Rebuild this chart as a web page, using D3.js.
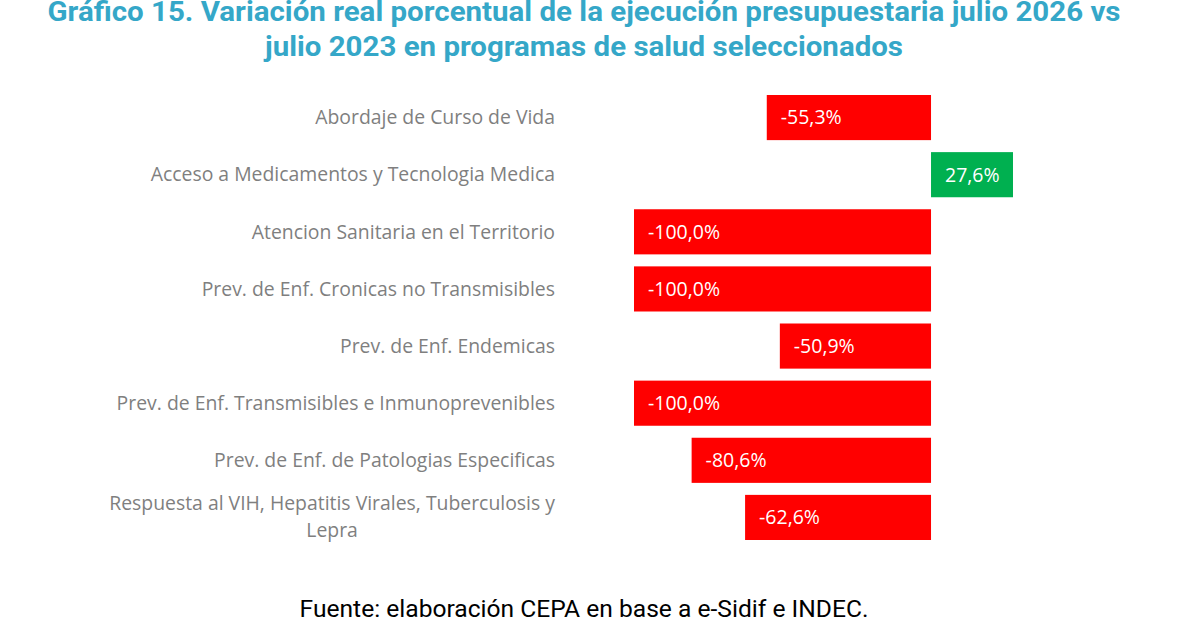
<!DOCTYPE html>
<html>
<head>
<meta charset="utf-8">
<script src="https://cdn.jsdelivr.net/npm/d3@7"></script>
<style>
  body { margin: 0; background: #fff; }
</style>
</head>
<body>
<div id="svganchor"></div>
<script>
let width = 1180;
let height = 642;

let titleLines = [
  "Gráfico 15. Variación real porcentual de la ejecución presupuestaria julio 2026 vs",
  "julio 2023 en programas de salud seleccionados"
];
let categories = [
  "Abordaje de Curso de Vida",
  "Acceso a Medicamentos y Tecnologia Medica",
  "Atencion Sanitaria en el Territorio",
  "Prev. de Enf. Cronicas no Transmisibles",
  "Prev. de Enf. Endemicas",
  "Prev. de Enf. Transmisibles e Inmunoprevenibles",
  "Prev. de Enf. de Patologias Especificas",
  "Respuesta al VIH, Hepatitis Virales, Tuberculosis y Lepra"
];
let values = [-55.3, 27.6, -100.0, -100.0, -50.9, -100.0, -80.6, -62.6];
let source = "Fuente: elaboración CEPA en base a e-Sidif e INDEC.";

let svg = d3.select("#svganchor").append("svg")
  .attr("width", width).attr("height", height);

// title
svg.append("g").selectAll("text")
  .data(titleLines)
  .enter()
  .append("text")
  .attr("x", 584)
  .attr("y", function (d, i) { return 21 + i * 35; })
  .attr("text-anchor", "middle")
  .attr("font-family", "Roboto")
  .attr("font-weight", "bold")
  .attr("font-size", 27)
  .attr("fill", "#35a7c8")
  .attr("textLength", function (d, i) { return i === 0 ? 1073 : 638; })
  .attr("lengthAdjust", "spacingAndGlyphs")
  .text(function (d) { return d; });

let xScale = d3.scaleLinear().domain([-100, 27.6]).range([634, 1013]);
let yScale = d3.scaleBand().domain(categories).range([89, 546]).paddingInner(0.21).paddingOuter(0.105);

let fmt = function (v) { return v.toFixed(1).replace(".", ",") + "%"; };

// bars
svg.append("g").selectAll("rect")
  .data(values)
  .enter()
  .append("rect")
  .attr("x", function (d) { return xScale(Math.min(0, d)); })
  .attr("y", function (d, i) { return yScale(categories[i]); })
  .attr("width", function (d) { return Math.abs(xScale(d) - xScale(0)); })
  .attr("height", yScale.bandwidth())
  .attr("fill", function (d) { return d < 0 ? "#ff0000" : "#00b050"; });

// value labels
svg.append("g").selectAll("text")
  .data(values)
  .enter()
  .append("text")
  .attr("x", function (d) { return xScale(Math.min(0, d)) + 14; })
  .attr("y", function (d, i) { return yScale(categories[i]) + yScale.bandwidth() / 2; })
  .attr("dy", "0.35em")
  .attr("font-family", "Open Sans")
  .attr("font-size", 19.5)
  .attr("fill", "#fff")
  .text(fmt);

// category labels
let labelRight = 555;
let labels = svg.append("g").selectAll("text")
  .data(categories)
  .enter()
  .append("text")
  .attr("font-family", "Open Sans")
  .attr("font-size", 19.4)
  .attr("fill", "#7f7f7f")
  .attr("text-anchor", "end")
  .attr("x", labelRight)
  .attr("y", function (d) { return yScale(d) + yScale.bandwidth() / 2; })
  .attr("dy", "0.35em")
  .text(function (d) { return d; });

// wrap the long label into two centred lines
labels.each(function (d) {
  let t = d3.select(this);
  if (this.getComputedTextLength() > 460) {
    let words = d.split(" ");
    let first = words.slice(0, -1).join(" ");
    let last = words[words.length - 1];
    t.text(null).attr("text-anchor", "middle").attr("dy", null);
    let cy = yScale(d) + yScale.bandwidth() / 2;
    let l1 = t.append("tspan").attr("y", cy - 7).text(first);
    let w = l1.node().getComputedTextLength();
    let cx = labelRight - w / 2;
    l1.attr("x", cx);
    t.append("tspan").attr("x", cx).attr("y", cy + 20).text(last);
  }
});

// source
svg.append("text")
  .attr("x", 584)
  .attr("y", 617)
  .attr("text-anchor", "middle")
  .attr("font-family", "Roboto")
  .attr("font-size", 24.6)
  .attr("fill", "#000")
  .text(source);
</script>
</body>
</html>
